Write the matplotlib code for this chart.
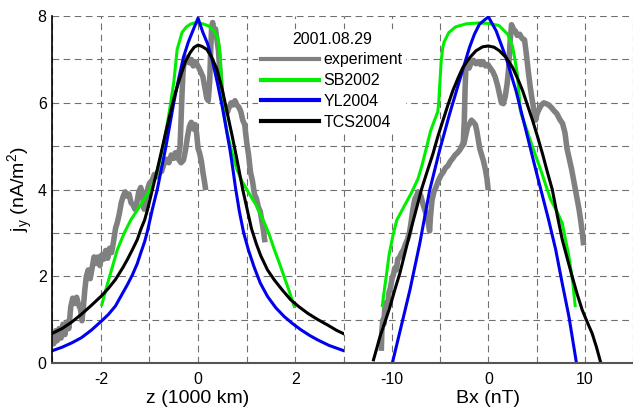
import matplotlib
matplotlib.use('Agg')
import matplotlib.pyplot as plt

plt.rcParams['font.family'] = 'Liberation Sans'
plt.rcParams['mathtext.fontset'] = 'custom'
plt.rcParams['mathtext.rm'] = 'Liberation Sans'
plt.rcParams['axes.unicode_minus'] = False

# ---- left panel: j_y versus z (1000 km) ----
# experiment, main trace
z_exp = [-3.00, -2.97, -2.93, -2.90, -2.86, -2.82, -2.78, -2.74, -2.70, -2.66,
         -2.62, -2.58, -2.54, -2.50, -2.46, -2.42, -2.39, -2.36, -2.33, -2.30,
         -2.26, -2.22, -2.18, -2.14, -2.10, -2.06, -2.02, -1.98, -1.94, -1.90,
         -1.86, -1.82, -1.78, -1.74, -1.70, -1.66, -1.62, -1.58, -1.54, -1.50,
         -1.46, -1.42, -1.38, -1.34, -1.30, -1.26, -1.22, -1.18, -1.14, -1.11,
         -1.08, -1.04, -1.00, -0.95, -0.90, -0.85, -0.80, -0.75, -0.70, -0.65,
         -0.60, -0.55, -0.50, -0.45, -0.40, -0.37, -0.35, -0.33, -0.31, -0.29,
         -0.26, -0.22, -0.18, -0.14, -0.10, -0.06, -0.02, 0.02, 0.06, 0.10,
         0.14, 0.18, 0.21, 0.24, 0.26, 0.28, 0.30, 0.33, 0.36, 0.39,
         0.42, 0.45, 0.48, 0.52, 0.56, 0.60, 0.64, 0.68, 0.72, 0.76,
         0.80, 0.84, 0.88, 0.92, 0.96, 1.00, 1.04, 1.08, 1.12, 1.16,
         1.20, 1.24, 1.28, 1.31, 1.34, 1.37]
jz_exp = [0.62, 0.45, 0.75, 0.52, 0.80, 0.58, 0.90, 0.66, 0.95, 0.80,
          1.30, 1.50, 1.38, 1.52, 1.35, 1.25, 0.98, 1.30, 1.70, 2.00,
          2.15, 1.95, 2.20, 2.45, 2.30, 2.45, 2.25, 2.50, 2.40, 2.60,
          2.42, 2.65, 2.55, 2.80, 3.10, 3.25, 3.45, 3.70, 3.85, 3.95,
          3.85, 3.90, 3.70, 3.65, 3.55, 3.70, 3.95, 4.05, 3.85, 3.55,
          3.75, 4.00, 4.15, 4.20, 4.35, 4.30, 4.48, 4.42, 4.60, 4.70,
          4.62, 4.80, 4.72, 4.85, 4.78, 5.00, 5.60, 6.20, 6.70, 6.90,
          6.95, 7.05, 6.92, 7.00, 6.85, 6.95, 6.88, 6.80, 6.70, 6.60,
          6.35, 6.10, 6.05, 6.50, 7.20, 7.75, 7.85, 7.65, 7.70, 7.45,
          7.20, 6.70, 6.25, 6.00, 5.85, 5.78, 5.90, 6.00, 5.95, 6.05,
          5.95, 5.90, 5.80, 5.60, 5.50, 5.10, 4.80, 4.40, 4.20, 3.90,
          3.80, 3.60, 3.50, 3.30, 3.10, 2.85]
# experiment, lower loop
z_exp2 = [-0.45, -0.40, -0.35, -0.30, -0.26, -0.22, -0.18, -0.14, -0.10, -0.06,
          -0.03, 0.00, 0.03, 0.07, 0.10, 0.13, 0.15]
jz_exp2 = [4.85, 4.70, 4.62, 4.68, 4.90, 5.20, 5.45, 5.55, 5.40, 5.50,
           5.30, 4.95, 4.85, 4.65, 4.40, 4.20, 4.05]

z_sb = [-1.98, -1.90, -1.80, -1.66, -1.52, -1.38, -1.21, -1.04, -0.90, -0.80,
        -0.70, -0.64, -0.57, -0.50, -0.43, -0.33, -0.24, -0.16, -0.08, 0.00,
        0.10, 0.22, 0.32, 0.39, 0.43, 0.46, 0.50, 0.55, 0.60, 0.70,
        0.80, 0.90, 1.00, 1.10, 1.21, 1.36, 1.47, 1.57, 1.67, 1.77,
        1.88, 1.98]
jz_sb = [1.35, 1.69, 2.08, 2.62, 3.00, 3.31, 3.60, 3.90, 4.20, 4.60,
         5.10, 5.47, 5.95, 6.47, 7.23, 7.62, 7.75, 7.81, 7.84, 7.84,
         7.82, 7.77, 7.66, 7.54, 7.35, 7.00, 6.10, 5.65, 5.31, 4.85,
         4.47, 4.20, 4.01, 3.82, 3.62, 3.25, 2.95, 2.62, 2.32, 2.00,
         1.65, 1.31]

z_yl = [-3.00, -2.80, -2.60, -2.40, -2.20, -2.00, -1.85, -1.70, -1.55, -1.45,
        -1.35, -1.25, -1.18, -1.10, -1.04, -0.94, -0.84, -0.75, -0.66, -0.58,
        -0.50, -0.40, -0.30, -0.20, -0.10, 0.00, 0.10, 0.20, 0.30, 0.40,
        0.50, 0.58, 0.66, 0.72, 0.77, 0.85, 0.94, 1.04, 1.15, 1.28,
        1.43, 1.60, 1.77, 1.95, 2.12, 2.30, 2.46, 2.70, 3.00]
jz_yl = [0.29, 0.37, 0.47, 0.59, 0.76, 0.96, 1.12, 1.32, 1.62, 1.82,
         2.04, 2.30, 2.54, 2.80, 3.05, 3.55, 4.00, 4.50, 5.00, 5.50,
         6.00, 6.55, 7.05, 7.40, 7.68, 7.95, 7.62, 7.35, 6.95, 6.45,
         5.90, 5.40, 4.90, 4.45, 4.05, 3.50, 3.00, 2.60, 2.23, 1.85,
         1.54, 1.28, 1.08, 0.91, 0.77, 0.64, 0.54, 0.41, 0.29]

z_tcs = [-3.00, -2.80, -2.60, -2.40, -2.20, -2.00, -1.85, -1.70, -1.55, -1.45,
         -1.35, -1.25, -1.18, -1.10, -1.04, -0.94, -0.84, -0.77, -0.67, -0.57,
         -0.47, -0.36, -0.26, -0.16, -0.08, 0.00, 0.08, 0.18, 0.28, 0.39,
         0.50, 0.60, 0.70, 0.80, 0.92, 1.00, 1.10, 1.20, 1.29, 1.43,
         1.57, 1.74, 1.91, 2.08, 2.26, 2.46, 2.67, 2.85, 3.00]
jz_tcs = [0.69, 0.80, 0.95, 1.13, 1.33, 1.54, 1.72, 1.93, 2.20, 2.40,
          2.62, 2.85, 3.08, 3.30, 3.54, 4.00, 4.46, 4.80, 5.30, 5.77,
          6.22, 6.62, 6.95, 7.16, 7.28, 7.33, 7.30, 7.23, 7.05, 6.77,
          6.30, 5.77, 5.25, 4.70, 4.00, 3.60, 3.10, 2.75, 2.48, 2.15,
          1.92, 1.68, 1.46, 1.30, 1.15, 1.01, 0.88, 0.76, 0.68]

# ---- right panel: j_y versus Bx (nT) ----
bx_exp = [-11.10, -11.05, -10.95, -10.85, -10.75, -10.60, -10.45, -10.30, -10.15, -10.00,
          -9.85, -9.70, -9.55, -9.40, -9.20, -9.00, -8.80, -8.60, -8.40, -8.20,
          -8.05, -7.90, -7.75, -7.60, -7.45, -7.30, -7.15, -7.00, -6.85, -6.70,
          -6.55, -6.40, -6.25, -6.10, -6.00, -5.85, -5.65, -5.45, -5.20, -4.95,
          -4.70, -4.45, -4.20, -3.95, -3.70, -3.45, -3.20, -2.95, -2.75, -2.60,
          -2.50, -2.42, -2.35, -2.20, -2.00, -1.80, -1.55, -1.30, -1.05, -0.80,
          -0.55, -0.30, -0.05, 0.20, 0.45, 0.70, 0.95, 1.15, 1.35, 1.55,
          1.75, 1.95, 2.10, 2.25, 2.40, 2.60, 2.80, 3.00, 3.25, 3.50,
          3.75, 3.95, 4.15, 4.35, 4.55, 4.75, 4.90, 5.05, 5.25, 5.50,
          5.75, 6.00, 6.25, 6.50, 6.80, 7.10, 7.40, 7.70, 7.95, 8.15,
          8.40, 8.65, 8.90, 9.15, 9.40, 9.60, 9.75, 9.85]
jb_exp = [0.35, 0.75, 1.00, 0.90, 1.25, 1.40, 1.35, 1.65, 1.75, 1.95,
          2.05, 2.20, 2.15, 2.40, 2.45, 2.55, 2.62, 2.75, 2.85, 3.00,
          3.20, 3.45, 3.65, 3.80, 3.85, 3.95, 3.92, 3.85, 3.72, 3.60,
          3.50, 3.40, 3.25, 3.05, 3.40, 3.75, 3.95, 4.05, 4.20, 4.32,
          4.40, 4.50, 4.55, 4.65, 4.72, 4.80, 4.85, 4.92, 5.00, 5.10,
          5.60, 6.30, 6.75, 6.85, 6.80, 6.92, 6.98, 6.90, 6.95, 6.88,
          6.95, 6.85, 6.88, 6.80, 6.72, 6.60, 6.40, 6.20, 6.00, 5.98,
          6.15, 6.45, 6.80, 7.40, 7.80, 7.70, 7.65, 7.55, 7.58, 7.48,
          7.45, 7.10, 6.70, 6.35, 6.05, 5.80, 5.60, 5.75, 5.85, 5.95,
          6.00, 5.98, 5.95, 5.90, 5.82, 5.75, 5.62, 5.52, 5.30, 4.95,
          4.70, 4.45, 4.15, 3.85, 3.55, 3.25, 3.00, 2.78]
bx_exp2 = [-2.75, -2.55, -2.35, -2.15, -1.95, -1.75, -1.55, -1.35, -1.20, -1.05,
           -0.90, -0.70, -0.50, -0.30, -0.15, -0.05]
jb_exp2 = [5.00, 5.05, 5.25, 5.45, 5.52, 5.60, 5.55, 5.50, 5.35, 5.15,
           4.95, 4.80, 4.65, 4.45, 4.25, 4.05]

bx_sb = [-11.00, -10.85, -10.60, -10.30, -9.90, -9.50, -8.90, -8.00, -7.30, -6.90,
         -6.50, -6.00, -5.50, -5.25, -5.15, -5.05, -4.90, -4.75, -4.60, -4.10,
         -3.40, -2.30, -1.00, 0.00, 1.10, 2.00, 2.50, 2.75, 3.00, 3.20,
         3.30, 3.40, 3.90, 4.60, 5.45, 6.14, 6.46, 7.10, 7.66, 8.00,
         8.35, 8.76, 9.00]
jb_sb = [1.33, 1.60, 2.00, 2.50, 2.95, 3.30, 3.55, 3.92, 4.25, 4.55,
         4.90, 5.35, 5.65, 5.80, 6.00, 6.40, 6.95, 7.25, 7.40, 7.62,
         7.75, 7.82, 7.84, 7.83, 7.78, 7.58, 7.30, 7.00, 6.66, 6.15,
         5.85, 5.75, 5.43, 4.97, 4.44, 3.98, 3.77, 3.50, 3.23, 2.85,
         2.46, 1.85, 1.33]

bx_yl = [-9.97, -9.05, -8.14, -7.11, -6.10, -5.07, -4.03, -3.00, -1.97, -1.45,
         -0.93, -0.45, 0.00, 0.40, 0.80, 1.83, 2.86, 3.90, 4.93, 5.50,
         6.25, 6.98, 7.65, 8.35, 9.14]
jb_yl = [0.00, 0.85, 1.69, 2.77, 3.98, 4.90, 5.74, 6.51, 7.27, 7.58,
         7.81, 7.90, 7.98, 7.82, 7.66, 7.04, 6.28, 5.36, 4.44, 3.95,
         3.30, 2.62, 1.85, 1.08, 0.00]

bx_tcs = [-11.92, -11.60, -11.24, -10.70, -10.20, -9.70, -9.18, -8.65, -8.14, -7.60,
          -6.95, -6.35, -5.76, -5.25, -4.72, -4.20, -3.69, -3.15, -2.66, -1.90,
          -1.28, -0.60, 0.00, 0.60, 1.14, 1.85, 2.52, 3.05, 3.55, 4.05,
          4.59, 5.10, 5.62, 6.10, 6.63, 7.15, 7.66, 8.20, 8.69, 9.20,
          9.73, 10.25, 10.76, 11.20, 11.62]
jb_tcs = [0.08, 0.33, 0.62, 0.97, 1.31, 1.70, 2.08, 2.55, 3.00, 3.45,
          4.00, 4.42, 4.82, 5.22, 5.59, 5.95, 6.28, 6.57, 6.81, 7.05,
          7.20, 7.29, 7.31, 7.28, 7.20, 7.04, 6.81, 6.55, 6.28, 5.95,
          5.59, 5.22, 4.82, 4.42, 4.00, 3.40, 2.85, 2.40, 2.00, 1.60,
          1.23, 0.95, 0.69, 0.38, 0.04]

legend_labels = ['experiment', 'SB2002', 'YL2004', 'TCS2004']
legend_title = '2001.08.29'

c_exp = '#808080'
c_sb = '#00ee00'
c_yl = '#0000ee'
c_tcs = '#000000'

W, H = 633, 412
fig = plt.figure(figsize=(W / 100, H / 100), dpi=100)
x0, x1, x2 = 52.3, 343.8, 633.0
yb, yt = 48.7, 396.0
ax1 = fig.add_axes([x0 / W, yb / H, (x1 - x0) / W, (yt - yb) / H])
ax2 = fig.add_axes([x1 / W, yb / H, (x2 - x1) / W, (yt - yb) / H])

grid_kw = dict(color='#707070', linewidth=0.8, linestyle=(0, (6, 4)))

for ax in (ax1, ax2):
    ax.set_ylim(0, 8)
    ax.set_yticks(range(0, 9))
    ax.grid(True, **grid_kw)
    ax.set_axisbelow(True)
    for s in ('top', 'right', 'left'):
        ax.spines[s].set_visible(False)
    ax.spines['bottom'].set_color('#555555')
    ax.spines['bottom'].set_linewidth(1.5)
    ax.tick_params(length=0, labelsize=11.5, pad=6.5)
    ax.tick_params(axis='y', pad=4)

ax1.spines['left'].set_visible(True)
ax1.spines['left'].set_color('black')
ax1.spines['left'].set_linewidth(1.2)

ax1.set_xlim(-3, 3)
ax1.set_xticks(range(-3, 4))
ax1.set_xticklabels(['', '-2', '', '0', '', '2', ''])
ax1.set_yticklabels(['0', '', '2', '', '4', '', '6', '', '8'])

# same pixel scale as a -15..15 axis that would be 293 px wide
ax2.set_xlim(-15, -15 + 30 * (x2 - x1) / 293.0)
ax2.set_xticks(range(-15, 16, 5))
ax2.set_xticklabels(['', '-10', '', '0', '', '10', ''])
ax2.set_yticklabels([])

lw = 2.2
lw_exp = 4.0
ax1.plot(z_exp, jz_exp, color=c_exp, lw=lw_exp, solid_joinstyle='round')
ax1.plot(z_exp2, jz_exp2, color=c_exp, lw=lw_exp, solid_joinstyle='round')
ax1.plot(z_sb, jz_sb, color=c_sb, lw=lw)
ax1.plot(z_yl, jz_yl, color=c_yl, lw=lw)
ax1.plot(z_tcs, jz_tcs, color=c_tcs, lw=lw)

h_exp, = ax2.plot(bx_exp, jb_exp, color=c_exp, lw=lw_exp, solid_joinstyle='round')
ax2.plot(bx_exp2, jb_exp2, color=c_exp, lw=lw_exp, solid_joinstyle='round')
h_sb, = ax2.plot(bx_sb, jb_sb, color=c_sb, lw=lw)
h_yl, = ax2.plot(bx_yl, jb_yl, color=c_yl, lw=lw)
h_tcs, = ax2.plot(bx_tcs, jb_tcs, color=c_tcs, lw=lw)

ax1.set_xlabel('z (1000 km)', fontsize=14, labelpad=2)
ax2.set_xlabel('Bx (nT)', fontsize=14, labelpad=2)
ax1.set_ylabel(r'j$_\mathregular{y}$ (nA/m$^\mathregular{2}$)', fontsize=14, labelpad=2)

leg = fig.legend([h_exp, h_sb, h_yl, h_tcs], legend_labels, title=legend_title,
                 loc='upper left', bbox_to_anchor=(258 / W, 1 - 28.5 / H),
                 frameon=True, facecolor='white', edgecolor='none', framealpha=1,
                 fontsize=11.5, title_fontsize=11.5, handlelength=3.6,
                 handletextpad=0.3, labelspacing=0.36, borderpad=0.2,
                 borderaxespad=0, fancybox=False)
for line in leg.get_lines():
    line.set_linewidth(3.0)

fig.savefig('out.png', dpi=100)
